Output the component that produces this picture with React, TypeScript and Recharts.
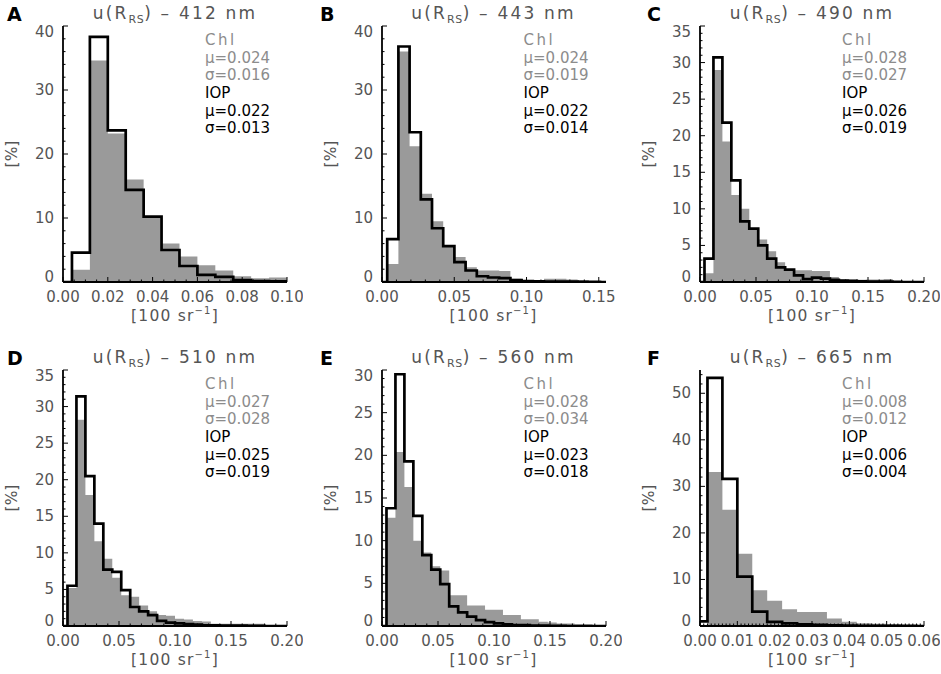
import React from 'react'
import { ComposedChart, Area, Line, XAxis, YAxis } from 'recharts'

// panel order: A..F
const PANEL_LETTERS = ['A', 'B', 'C', 'D', 'E', 'F']
const WAVELENGTHS = [412, 443, 490, 510, 560, 665]

const X_MAX = [0.1, 0.155, 0.2, 0.2, 0.2, 0.06]
const X_MAJOR_TICKS = [
  [0, 0.02, 0.04, 0.06, 0.08, 0.1],
  [0, 0.05, 0.1, 0.15],
  [0, 0.05, 0.1, 0.15, 0.2],
  [0, 0.05, 0.1, 0.15, 0.2],
  [0, 0.05, 0.1, 0.15, 0.2],
  [0, 0.01, 0.02, 0.03, 0.04, 0.05, 0.06],
]
const X_MINOR_PER_MAJOR = [4, 5, 5, 5, 5, 10]

const Y_MAX = [40, 40, 35, 35, 30, 55]
const Y_MAJOR_TICKS = [
  [0, 10, 20, 30, 40],
  [0, 10, 20, 30, 40],
  [0, 5, 10, 15, 20, 25, 30, 35],
  [0, 5, 10, 15, 20, 25, 30, 35],
  [0, 5, 10, 15, 20, 25, 30],
  [0, 10, 20, 30, 40, 50],
]
const Y_MINOR_PER_MAJOR = [5, 5, 5, 5, 5, 5]

// histogram bins: first edge and width in 100 sr^-1
const BIN_START = [0.004, 0.0036, 0.004, 0.004, 0.004, 0.002]
const BIN_WIDTH = [0.008, 0.00775, 0.008, 0.008, 0.008, 0.004]
// value of the partial bin between 0 and the first edge
const CHL_LEAD = [0, 0, 0, 0, 0, 0]
const IOP_LEAD = [0, 0, 0, 0, 0, 1.0]

// Chl based uncertainty [%]
const chl412 = [1.9, 34.6, 23.2, 16.0, 10.3, 6.0, 4.0, 2.6, 1.8, 0.9, 0.6, 0.7]
const chl443 = [2.8, 36.0, 21.2, 13.8, 9.5, 5.6, 3.9, 2.3, 1.8, 1.8, 1.7, 0.5, 0.3, 0.3, 0.5, 0.5, 0.4, 0.3, 0.1, 0.05]
const chl490 = [1.2, 29.0, 19.2, 11.9, 10.0, 7.1, 5.8, 4.2, 2.7, 1.7, 1.6, 1.6, 1.5, 1.5, 0.7, 0.35, 0.3, 0.3, 0.35, 0.35, 0.4, 0, 0, 0, 0]
const chl510 = [5.2, 28.2, 17.9, 11.6, 9.2, 6.6, 4.2, 4.0, 2.8, 2.0, 1.5, 1.4, 1.0, 0.9, 0.7, 0.6, 0.3, 0.3, 0.3, 0.3, 0.3, 0.3, 0.1, 0, 0]
const chl560 = [12.7, 20.4, 16.3, 10.0, 8.6, 7.0, 6.5, 3.6, 3.6, 2.4, 2.4, 1.9, 1.9, 1.3, 1.3, 0.8, 0.8, 0.5, 0.4, 0.3, 0.3, 0.2, 0.2, 0.1, 0.1]
const chl665 = [33.1, 25.0, 15.5, 7.7, 5.4, 3.6, 3.0, 3.0, 1.6, 0.9, 0.6, 0.5, 0.35, 0.2, 0.1]

// IOP based uncertainty [%]
const iop412 = [4.6, 38.3, 23.7, 14.4, 10.2, 5.0, 2.5, 1.1, 0.8, 0.3, 0.15, 0.1]
const iop443 = [6.7, 36.8, 23.4, 12.9, 8.4, 5.6, 3.1, 1.8, 0.9, 0.7, 0.6, 0.3, 0.15, 0.1, 0.05, 0.05, 0.05, 0.02, 0.02, 0]
const iop490 = [3.2, 30.7, 21.8, 13.9, 8.3, 7.3, 5.0, 3.2, 2.0, 1.7, 0.9, 0.4, 0.6, 0.45, 0.3, 0.2, 0.15, 0.1, 0.05, 0.05, 0.05, 0.02, 0, 0, 0]
const iop510 = [5.5, 31.4, 20.5, 14.0, 7.7, 7.4, 4.9, 2.6, 2.0, 1.5, 0.7, 0.45, 0.35, 0.25, 0.2, 0.1, 0.1, 0.05, 0.05, 0.05, 0.02, 0.02, 0, 0, 0]
const iop560 = [13.8, 29.5, 19.3, 12.9, 8.3, 6.6, 4.9, 2.3, 1.6, 1.1, 0.7, 0.45, 0.3, 0.2, 0.1, 0.1, 0.05, 0.05, 0.02, 0.02, 0, 0, 0, 0, 0]
const iop665 = [53.3, 31.6, 10.6, 3.1, 0.9, 0.55, 0.35, 0.25, 0.15, 0.1, 0.05, 0.05, 0.02, 0.02, 0]

const CHL_SERIES = [chl412, chl443, chl490, chl510, chl560, chl665]
const IOP_SERIES = [iop412, iop443, iop490, iop510, iop560, iop665]

const CHL_STATS = [['0.024', '0.016'], ['0.024', '0.019'], ['0.028', '0.027'], ['0.027', '0.028'], ['0.028', '0.034'], ['0.008', '0.012']]
const IOP_STATS = [['0.022', '0.013'], ['0.022', '0.014'], ['0.026', '0.019'], ['0.025', '0.019'], ['0.023', '0.018'], ['0.006', '0.004']]

// layout
const BOX_W = 224
const BOX_H = 256
const COL_LEFT = [63, 381.5, 700]
const ROW_TOP = [25.5, 369.5]
const LETTER_LEFT = [7, 320, 647]
const ML = 50
const MT = 10
const MR = 16
const MB = 50

const FONT = '"DejaVu Sans", Verdana, sans-serif'
const AXIS_GRAY = '#555'
const CHL_TEXT = '#8c8c8c'
const FILL_GRAY = '#9a9a9a'

const isMultiple = (v: number, step: number) => Math.abs(v / step - Math.round(v / step)) < 1e-6

const withMinor = (majors: number[], perMajor: number, max: number) => {
  const step = (majors[1] - majors[0]) / perMajor
  const out: number[] = []
  for (let i = 0; i * step <= max + 1e-9; i++) out.push(+(i * step).toFixed(6))
  return out
}

const buildRows = (i: number) => {
  const chl = CHL_SERIES[i]
  const iop = IOP_SERIES[i]
  const rows = [{ x: 0, chl: CHL_LEAD[i], iop: IOP_LEAD[i] }]
  chl.forEach((v, k) => rows.push({ x: BIN_START[i] + k * BIN_WIDTH[i], chl: v, iop: iop[k] }))
  rows.push({ x: X_MAX[i], chl: chl[chl.length - 1], iop: iop[iop.length - 1] })
  return rows
}

function Panel({ i }: { i: number }) {
  const col = i % 3
  const row = Math.floor(i / 3)
  const boxLeft = COL_LEFT[col]
  const boxTop = ROW_TOP[row]
  const W = ML + BOX_W + MR
  const H = MT + BOX_H + MB
  const xMajorStep = X_MAJOR_TICKS[i][1]
  const yMajorStep = Y_MAJOR_TICKS[i][1]
  const xTicks = withMinor(X_MAJOR_TICKS[i], X_MINOR_PER_MAJOR[i], X_MAX[i])
  const yTicks = withMinor(Y_MAJOR_TICKS[i], Y_MINOR_PER_MAJOR[i], Y_MAX[i])
  const yb = MT + BOX_H
  const xr = ML + BOX_W

  const bottomTick = (props: any) => {
    const { x, payload } = props
    const major = isMultiple(payload.value, xMajorStep)
    const len = major ? 5 : 2.5
    return (
      <g>
        <line x1={x} x2={x} y1={yb} y2={yb - len} stroke="#000" strokeWidth={1} />
        {major && (
          <text x={x} y={yb + 15} textAnchor="middle" dominantBaseline="central" fill={AXIS_GRAY} fontSize={15} fontFamily={FONT}>
            {payload.value.toFixed(2)}
          </text>
        )}
      </g>
    )
  }
  const topTick = (props: any) => {
    const { x, payload } = props
    const len = isMultiple(payload.value, xMajorStep) ? 5 : 2.5
    return <line x1={x} x2={x} y1={MT} y2={MT + len} stroke="#000" strokeWidth={1} />
  }
  const leftTick = (props: any) => {
    const { y, payload } = props
    const v = payload.value
    const major = isMultiple(v, yMajorStep)
    const len = major ? 5 : 2.5
    const dy = v === 0 ? -5 : v === Y_MAX[i] ? 6 : 0
    return (
      <g>
        <line x1={ML} x2={ML + len} y1={y} y2={y} stroke="#000" strokeWidth={1} />
        {major && (
          <text x={ML - 9} y={y + dy} textAnchor="end" dominantBaseline="central" fill={AXIS_GRAY} fontSize={15} fontFamily={FONT}>
            {v}
          </text>
        )}
      </g>
    )
  }
  const rightTick = (props: any) => {
    const { y, payload } = props
    const len = isMultiple(payload.value, yMajorStep) ? 5 : 2.5
    return <line x1={xr} x2={xr - len} y1={y} y2={y} stroke="#000" strokeWidth={1} />
  }

  const frame = { stroke: '#000', strokeWidth: 1.8 }
  const statLines = [
    { t: 'Chl', c: CHL_TEXT, ls: 2.5 },
    { t: 'μ=' + CHL_STATS[i][0], c: CHL_TEXT, ls: 0 },
    { t: 'σ=' + CHL_STATS[i][1], c: CHL_TEXT, ls: 0 },
    { t: 'IOP', c: '#000', ls: 0 },
    { t: 'μ=' + IOP_STATS[i][0], c: '#000', ls: 0 },
    { t: 'σ=' + IOP_STATS[i][1], c: '#000', ls: 0 },
  ]
  const statY = [14, 32, 49.5, 67.5, 85.5, 102.5]

  return (
    <>
      <div style={{ position: 'absolute', left: boxLeft - ML, top: boxTop - MT }}>
        <ComposedChart width={W} height={H} data={buildRows(i)} margin={{ top: MT, right: MR, bottom: 0, left: 0 }}>
          <XAxis xAxisId="b" type="number" dataKey="x" domain={[0, X_MAX[i]]} allowDataOverflow ticks={xTicks} interval={0}
            orientation="bottom" height={MB} tickLine={false} axisLine={frame} tick={bottomTick} />
          <XAxis xAxisId="t" type="number" dataKey="x" domain={[0, X_MAX[i]]} allowDataOverflow ticks={xTicks} interval={0}
            orientation="top" height={0} tickLine={false} axisLine={frame} tick={topTick} />
          <YAxis yAxisId="l" type="number" domain={[0, Y_MAX[i]]} allowDataOverflow ticks={yTicks} interval={0}
            width={ML} tickLine={false} axisLine={frame} tick={leftTick} />
          <YAxis yAxisId="r" type="number" orientation="right" domain={[0, Y_MAX[i]]} allowDataOverflow ticks={yTicks} interval={0}
            width={0} tickLine={false} axisLine={frame} tick={rightTick} />
          <Area xAxisId="b" yAxisId="l" type="stepAfter" dataKey="chl" fill={FILL_GRAY} fillOpacity={1} stroke="none" isAnimationActive={false} />
          <Line xAxisId="b" yAxisId="l" type="stepAfter" dataKey="iop" stroke="#000" strokeWidth={2.7} dot={false} isAnimationActive={false} />
        </ComposedChart>
      </div>

      {/* panel letter and title */}
      <div style={{ position: 'absolute', left: LETTER_LEFT[col], top: boxTop - 12, transform: 'translateY(-50%)', fontFamily: FONT, fontWeight: 'bold', fontSize: 19, color: '#000' }}>
        {PANEL_LETTERS[i]}
      </div>
      <div style={{ position: 'absolute', left: boxLeft + BOX_W / 2, top: boxTop - 13, transform: 'translate(-50%, -50%)', fontFamily: FONT, fontSize: 17, letterSpacing: 2.2, color: AXIS_GRAY, whiteSpace: 'nowrap' }}>
        u(R<span style={{ fontSize: 11, position: 'relative', top: 4, letterSpacing: 0.5 }}>RS</span>) – {WAVELENGTHS[i]} nm
      </div>

      {/* axis titles */}
      <div style={{ position: 'absolute', left: boxLeft - 51, top: boxTop + BOX_H / 2, transform: 'translate(-50%, -50%) rotate(-90deg)', fontFamily: FONT, fontSize: 15.5, color: AXIS_GRAY, whiteSpace: 'nowrap' }}>
        [%]
      </div>
      <div style={{ position: 'absolute', left: boxLeft + BOX_W / 2, top: boxTop + BOX_H + 33, transform: 'translate(-50%, -50%)', fontFamily: FONT, fontSize: 15.5, letterSpacing: 1.2, color: AXIS_GRAY, whiteSpace: 'nowrap' }}>
        [100 sr<sup style={{ fontSize: 10 }}>−1</sup>]
      </div>

      {/* statistics */}
      {statLines.map((s, k) => (
        <div key={k} style={{ position: 'absolute', left: boxLeft + 142, top: boxTop + statY[k], transform: 'translateY(-50%)', fontFamily: FONT, fontSize: 15, letterSpacing: s.ls, color: s.c, whiteSpace: 'nowrap' }}>
          {s.t}
        </div>
      ))}
    </>
  )
}

export default function App() {
  return (
    <div style={{ position: 'fixed', left: 0, top: 0, width: 941, height: 674, background: '#fff', overflow: 'hidden' }}>
      {PANEL_LETTERS.map((_, i) => (
        <Panel key={i} i={i} />
      ))}
    </div>
  )
}
